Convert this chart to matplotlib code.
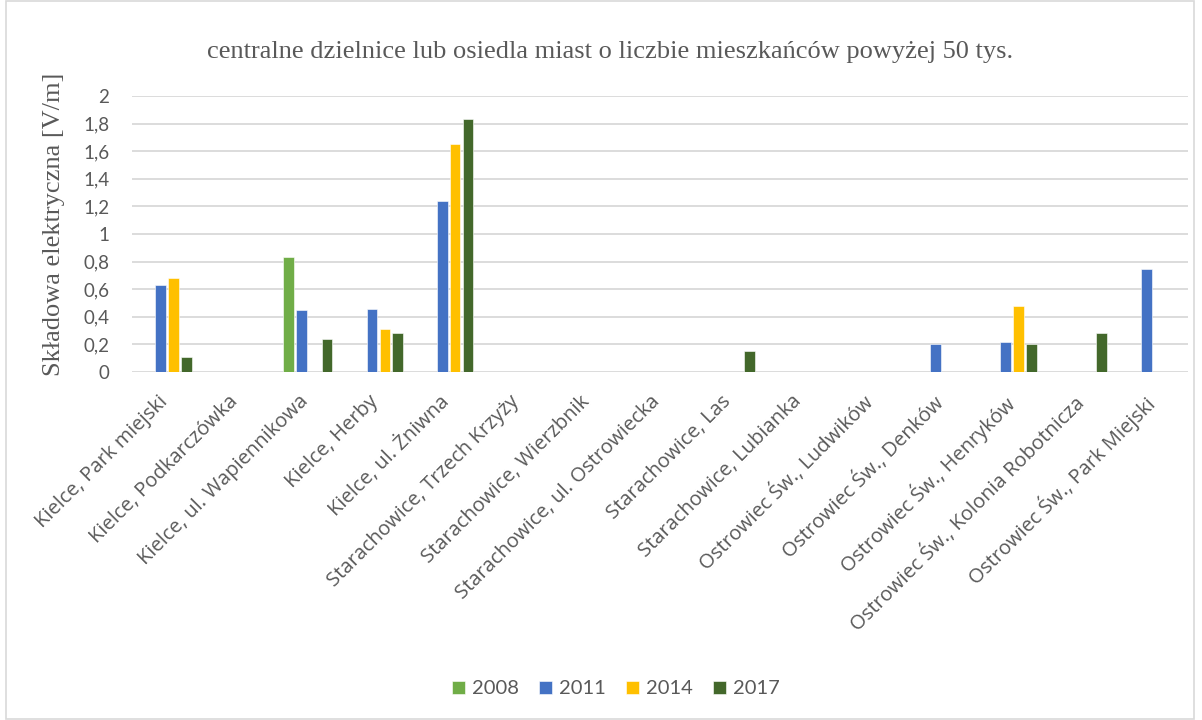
import numpy as np
import matplotlib
matplotlib.use('Agg')
import matplotlib.pyplot as plt
import matplotlib.transforms as mtransforms
from matplotlib.ticker import FuncFormatter
from matplotlib.patches import Rectangle

# Punkty pomiarowe
miejsca = [
    'Kielce, Park miejski',
    'Kielce, Podkarczówka',
    'Kielce, ul. Wapiennikowa',
    'Kielce, Herby',
    'Kielce, ul. Żniwna',
    'Starachowice, Trzech Krzyży',
    'Starachowice, Wierzbnik',
    'Starachowice, ul. Ostrowiecka',
    'Starachowice, Las',
    'Starachowice, Lubianka',
    'Ostrowiec Św., Ludwików',
    'Ostrowiec Św., Denków',
    'Ostrowiec Św., Henryków',
    'Ostrowiec Św., Kolonia Robotnicza',
    'Ostrowiec Św., Park Miejski',
]

lata = ['2008', '2011', '2014', '2017']
nan = np.nan

# Składowa elektryczna [V/m] - brak pomiaru = nan
v2008 = [nan, nan, 0.83, nan, nan, nan, nan, nan, nan, nan, nan, nan, nan, nan, nan]
v2011 = [0.63, nan, 0.45, 0.46, 1.24, nan, nan, nan, nan, nan, nan, 0.20, 0.22, nan, 0.75]
v2014 = [0.68, nan, nan, 0.31, 1.65, nan, nan, nan, nan, nan, nan, nan, 0.48, nan, nan]
v2017 = [0.11, nan, 0.24, 0.28, 1.83, nan, nan, nan, 0.15, nan, nan, nan, 0.20, 0.28, nan]

kolory = ['#70AD47', '#4472C4', '#FFC000', '#43682B']
szary = '#595959'

fig = plt.figure(figsize=(12.02, 7.2), dpi=100)
ax = fig.add_axes([0.1098, 0.4833, 0.8786, 0.3834])

x = np.arange(len(miejsca))
krok = 0.182
szer = 0.15
for i, (rok, wart, kol) in enumerate(zip(lata, [v2008, v2011, v2014, v2017], kolory)):
    ax.bar(x + (i - 1.5) * krok, wart, width=szer, color=kol, label=rok,
           edgecolor='white', linewidth=0.4, zorder=3)

ax.set_xlim(-0.5, len(miejsca) - 0.5)
ax.set_ylim(0, 2)
ax.set_yticks(np.arange(0, 2.01, 0.2))
ax.yaxis.set_major_formatter(FuncFormatter(lambda v, p: f'{v:g}'.replace('.', ',')))
ax.grid(axis='y', color='#D9D9D9', linewidth=1.3, zorder=0)
for s in ax.spines.values():
    s.set_visible(False)
ax.tick_params(axis='both', length=0)
ax.tick_params(axis='y', labelsize=13.5, labelcolor=szary, pad=16.5)
for lab in ax.get_yticklabels():
    lab.set_fontfamily('Lato')

# podpisy pod kątem 45°, koniec tekstu pod środkiem grupy słupków
ax.set_xticks(x)
ax.set_xticklabels(miejsca, rotation=45, ha='right', va='top',
                   rotation_mode='anchor', fontsize=14.5, color=szary,
                   family='Open Sans')
ax.tick_params(axis='x', pad=14)
przes = mtransforms.ScaledTranslation(-7 / 72, 0, fig.dpi_scale_trans)
for lab in ax.get_xticklabels():
    lab.set_transform(lab.get_transform() + przes)

ax.set_ylabel('Składowa elektryczna [V/m]', family='Liberation Serif',
              fontsize=19, color=szary)
ax.yaxis.label.set_va('center')
ax.yaxis.set_label_coords(-0.074, 0.535)

fig.text(0.5075, 1 - 52 / 720,
         'centralne dzielnice lub osiedla miast o liczbie mieszkańców powyżej 50 tys.',
         ha='center', va='center', family='Liberation Serif', fontsize=19,
         color=szary)

leg = fig.legend(loc='center', bbox_to_anchor=(616 / 1202, 1 - 689 / 720), ncol=4,
                 frameon=False, handlelength=0.65, handleheight=0.65,
                 handletextpad=0.35, columnspacing=1.0,
                 prop={'family': 'Lato', 'size': 14.5})
for t in leg.get_texts():
    t.set_color(szary)

# ramka wykresu
fig.patches.append(Rectangle((6 / 1202, 0.002), 1 - 14 / 1202, 0.996,
                             transform=fig.transFigure, fill=False,
                             edgecolor='#D9D9D9', linewidth=1.2))

fig.savefig('out.png', dpi=100)
